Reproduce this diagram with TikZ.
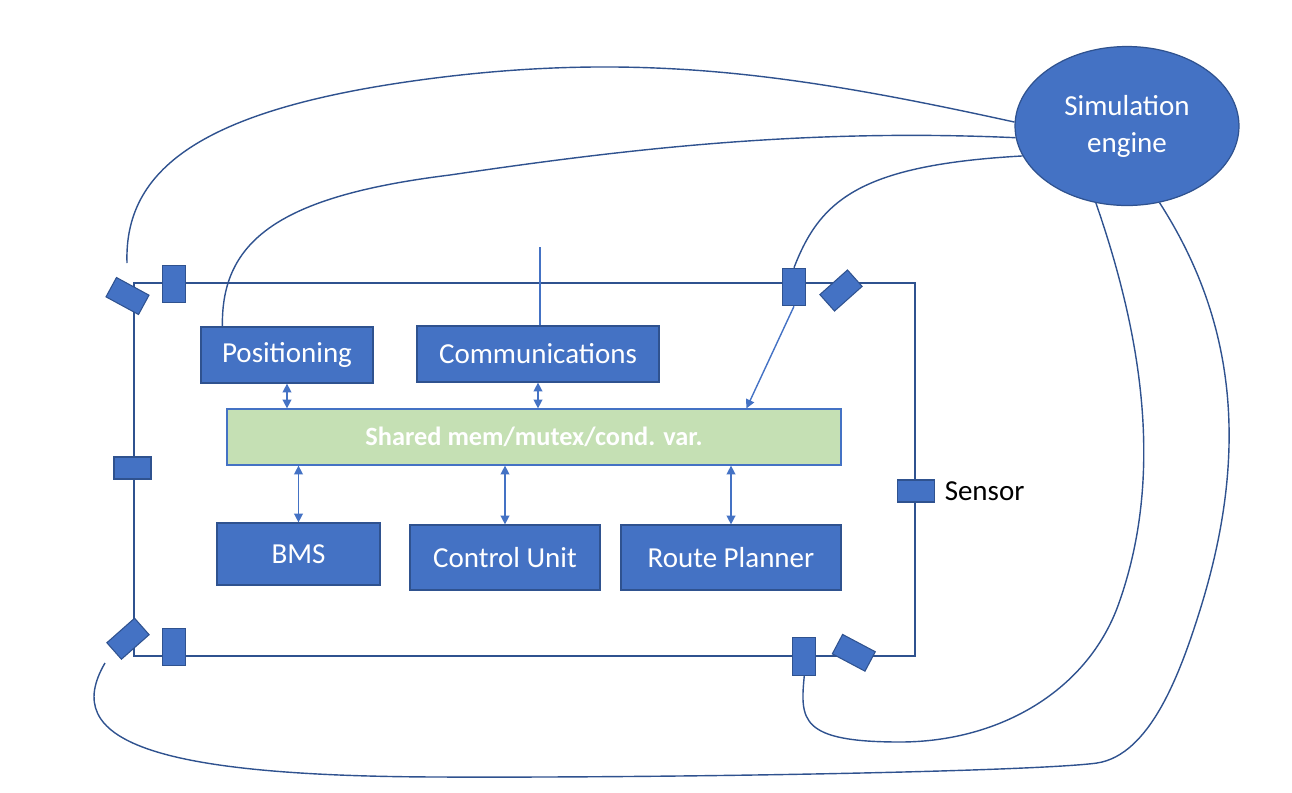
\documentclass[tikz,border=0pt]{standalone}
\usepackage{fontspec}
\setmainfont{Carlito}
\usetikzlibrary{arrows.meta,shapes.geometric,positioning,calc}
\definecolor{boxblue}{HTML}{4472C4}
\definecolor{edgeblue}{HTML}{2F528F}
\definecolor{memgreen}{HTML}{C5E0B4}

\begin{document}
\begin{tikzpicture}
  [x=0.02cm,y=-0.02cm,
   every node/.style={font=\fontsize{16.5}{21}\selectfont},
   unit/.style={rectangle,draw=edgeblue,fill=boxblue,text=white,line width=0.7pt,inner sep=0pt},
   sensor/.style={rectangle,draw=edgeblue,fill=boxblue,line width=0.6pt,inner sep=0pt,
                  minimum width=0.74cm,minimum height=0.44cm},
   sensorup/.style={sensor,minimum width=0.46cm,minimum height=0.75cm},
   wire/.style={draw=edgeblue,line width=0.8pt},
   access/.style={draw=boxblue,line width=0.8pt,
                  arrows={Triangle[length=5pt,width=5pt]-Triangle[length=5pt,width=5pt]}}]
  \useasboundingbox (0,0) rectangle (1292,792);

  % vehicle frame
  \draw[wire] (134,283) rectangle (915,656);

  \node[unit,minimum width=3.44cm,minimum height=1.12cm] (pos) at (287,355) {Positioning};
  \node[unit,minimum width=4.84cm,minimum height=1.12cm] (comm) at (538,354) {Communications};
  \node[unit,fill=memgreen,draw=boxblue,minimum width=12.28cm,minimum height=1.12cm,
        font=\bfseries\fontsize{15}{18}\selectfont] (shared) at (534,437) {Shared mem/mutex/cond. var.};
  \node[unit,minimum width=3.26cm,minimum height=1.24cm] (bms) at (298.5,554) {BMS};
  \node[unit,minimum width=3.8cm,minimum height=1.3cm] (cu) at (505,557.5) {Control Unit};
  \node[unit,minimum width=4.4cm,minimum height=1.3cm] (rp) at (731,557.5) {Route Planner};
  \node[ellipse,draw=edgeblue,fill=boxblue,text=white,align=center,line width=0.7pt,inner sep=0pt,
        minimum width=4.48cm,minimum height=3.18cm] (sim) at (1127,126) {Simulation\\engine};

  \draw[access] (pos.south) -- (pos.south |- shared.north);
  \draw[access] (comm.south) -- (comm.south |- shared.north);
  \draw[access] (shared.south -| bms) -- (bms.north);
  \draw[access] (shared.south -| cu) -- (cu.north);
  \draw[access] (shared.south -| rp) -- (rp.north);

  \coordinate (antenna) at (540,247);
  \draw[draw=boxblue,line width=0.8pt] (antenna |- comm.north) -- (antenna);

  % sensors on the frame
  \node[sensor,rotate=-28.5] (sTL) at (127.5,296) {};
  \node[sensorup] (sT1) at (174,284) {};
  \node[sensorup] (sTR1) at (794,287) {};
  \node[sensor,rotate=41.7] (sTR2) at (841,290.5) {};
  \node[sensor] (sL) at (132.5,468) {};
  \node[sensor] (sR) at (916,491) {};
  \node[sensor,rotate=41.5] (sBL) at (128,638.7) {};
  \node[sensorup] (sB1) at (174,647) {};
  \node[sensorup] (sBR1) at (804.3,656.3) {};
  \node[sensor,rotate=-27.9] (sBR2) at (853.8,652.8) {};
  \node[right=2pt of sR] (sLabel) {Sensor};

  % links to the simulation engine
  \coordinate (tlTip) at (127,263);
  \coordinate (blTip) at (105,663);
  \draw[wire] (tlTip) .. controls (124,170) and (200,110) .. (420,80)
              .. controls (640,50) and (800,75) .. (sim.178);
  \draw[wire] ($(pos.north west)+(22,0)$) .. controls (221,240) and (280,196) .. (450,175)
              .. controls (620,150) and (800,128) .. (sim.186);
  \draw[wire] (sTR1.north) .. controls (820,200) and (860,165) .. (sim.196);
  \draw[draw=boxblue,line width=0.8pt,arrows={-Triangle[length=5pt,width=5pt]}]
       (sTR1.south) -- ($(shared.north west)+(520,0)$);
  \draw[wire] (sim.248) .. controls (1140,330) and (1165,470) .. (1120,600)
              .. controls (1090,690) and (1000,742) .. (900,742)
              .. controls (800,742) and (800,720) .. (sBR1.south);
  \draw[wire] (sim.293) .. controls (1235,320) and (1250,450) .. (1200,610)
              .. controls (1180,674) and (1150,755) .. (1097,763)
              .. controls (1040,771) and (700,778) .. (437,777)
              .. controls (150,776) and (60,740) .. (blTip);
\end{tikzpicture}
\end{document}
